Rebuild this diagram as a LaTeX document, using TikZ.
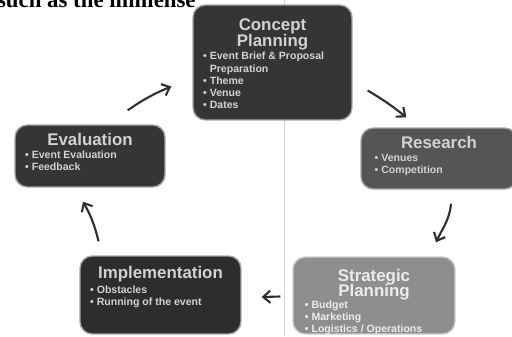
\documentclass[tikz,border=0pt]{standalone}
\usepackage{fontspec}
\newfontfamily\boxfont{Liberation Sans}
\newfontfamily\pagefont{Liberation Serif}
\usetikzlibrary{arrows.meta, positioning, calc}

\definecolor{boxdark}{HTML}{353535}
\definecolor{boxmid}{HTML}{555555}
\definecolor{boxlight}{HTML}{8E8E8E}
\definecolor{boxtext}{HTML}{D2D2D2}
\definecolor{arrowgray}{HTML}{2E2E2E}

\begin{document}
\begin{tikzpicture}[
        x=0.02cm, y=-0.02cm,
        every node/.style={font=\small},
        stagebox/.style={rectangle, rounded corners=7pt, draw=gray!70, line width=0.8pt, inner sep=0pt},
        boxtitle/.style={font=\boxfont\bfseries\fontsize{9.6}{9}\selectfont, text=boxtext, align=center, inner sep=0pt},
        boxlist/.style={font=\boxfont\bfseries\fontsize{6}{7}\selectfont, text=boxtext, align=left, inner sep=0pt},
        cyc/.style={draw=arrowgray, line width=1.2pt, -{Straight Barb[length=4pt, width=7pt]}}
    ]

    \useasboundingbox (0,0) rectangle (512,336);

    % Scan: page text and fold line
    \node[font=\pagefont\bfseries\fontsize{13}{13}\selectfont, anchor=base east, inner sep=0pt] (pagetext) at (196,7) {such as the immense};
    \draw[gray!35, line width=0.5pt] (284,0) -- (284,336);

    % Stages
    \node[stagebox, fill=boxdark, minimum width=3.18cm, minimum height=2.3cm] (concept) at (272.5,62.5) {};
    \node[boxtitle, below=8pt of concept.north] (concepttitle) {Concept\\Planning};
    \node[boxlist, below right=27pt and 6pt of concept.north west] (conceptlist) {%
        • Event Brief \& Proposal\\\phantom{• }Preparation\\• Theme\\• Venue\\• Dates};

    \node[stagebox, fill=boxmid, minimum width=3.12cm, minimum height=1.22cm] (research) at (439,158.5) {};
    \node[boxtitle, below=5pt of research.north] (researchtitle) {Research};
    \node[boxlist, below right=15pt and 8pt of research.north west] (researchlist) {%
        • Venues\\• Competition};

    \node[stagebox, fill=boxlight, draw=gray!40, minimum width=3.24cm, minimum height=1.54cm] (strategic) at (374,295.5) {};
    \node[boxtitle, text=gray!15, below=7pt of strategic.north] (strategictitle) {Strategic\\Planning};
    \node[boxlist, text=gray!15, below right=25pt and 7pt of strategic.north west] (strategiclist) {%
        • Budget\\• Marketing\\• Logistics / Operations};

    \node[stagebox, fill=boxdark!85!black, minimum width=3.22cm, minimum height=1.56cm] (implementation) at (160.5,295) {};
    \node[boxtitle, below=6pt of implementation.north] (implementationtitle) {Implementation};
    \node[boxlist, below right=17pt and 6pt of implementation.north west] (implementationlist) {%
        • Obstacles\\• Running of the event};

    \node[stagebox, fill=boxdark, minimum width=3.0cm, minimum height=1.24cm] (evaluation) at (90,156) {};
    \node[boxtitle, below=5pt of evaluation.north] (evaluationtitle) {Evaluation};
    \node[boxlist, below right=15pt and 6pt of evaluation.north west] (evaluationlist) {%
        • Event Evaluation\\• Feedback};

    % Arrow ends
    \coordinate (a1s) at ($(evaluation.north east)+(-38,-14)$);
    \coordinate (a1e) at ($(concept.west)+(-21,24)$);
    \coordinate (a2s) at ($(concept.east)+(15,28)$);
    \coordinate (a2e) at ($(research.north west)+(46,-10)$);
    \coordinate (a3s) at ($(research.south)+(12,14)$);
    \coordinate (a3e) at ($(strategic.north)+(62,-14)$);
    \coordinate (a4s) at ($(strategic.west)+(-12,1)$);
    \coordinate (a4e) at ($(implementation.east)+(20,2)$);
    \coordinate (a5s) at ($(implementation.north)+(-62,-14)$);
    \coordinate (a5e) at ($(evaluation.south)+(-7,14)$);

    % Cycle
    \draw[cyc] (a1s) to[bend left=6] (a1e);
    \draw[cyc] (a2s) to[bend left=4] (a2e);
    \draw[cyc] (a3s) to[out=-95, in=65] (a3e);
    \draw[cyc] (a4s) -- (a4e);
    \draw[cyc] (a5s) to[bend right=8] (a5e);

\end{tikzpicture}
\end{document}
